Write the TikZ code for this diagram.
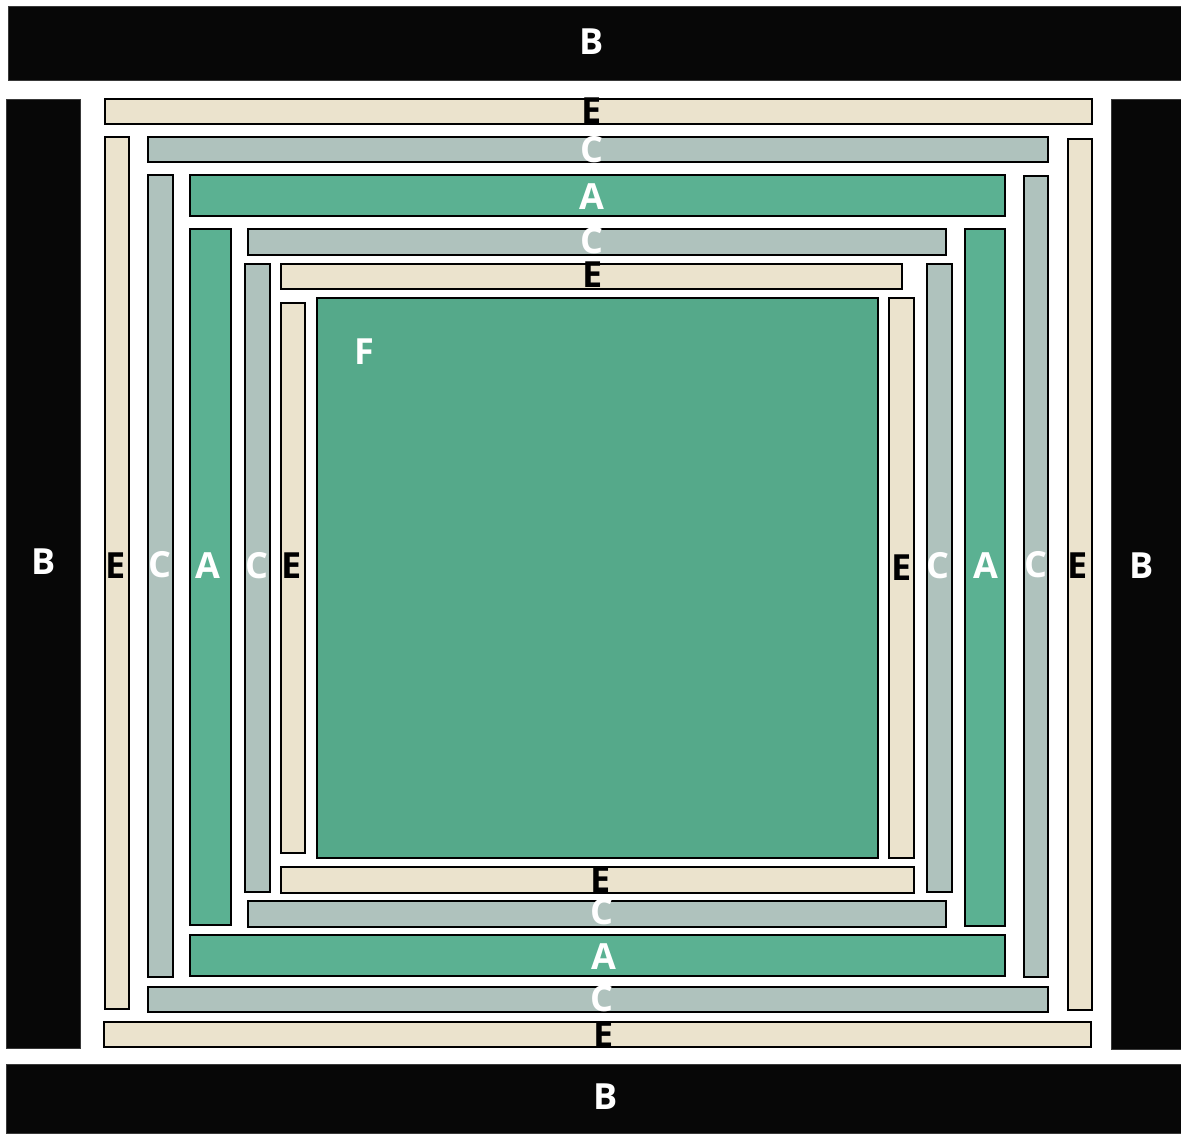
\documentclass[tikz,border=0pt]{standalone}
\usepackage{fontspec}
\setmainfont{Open Sans}
\usepackage{tikz}
\usepackage{xcolor}

\definecolor{barB}{HTML}{070707}
\definecolor{barA}{HTML}{5BB192}
\definecolor{barC}{HTML}{AFC2BD}
\definecolor{barE}{HTML}{EBE3CD}
\definecolor{fieldF}{HTML}{55A98A}

\tikzset{
  bandB/.style={fill=barB, draw=barB!80!white, line width=1pt},
  bandA/.style={fill=barA, draw=black, line width=2pt},
  bandC/.style={fill=barC, draw=black, line width=2pt},
  bandE/.style={fill=barE, draw=black, line width=2pt},
  bandF/.style={fill=fieldF, draw=black, line width=2pt},
  lbl/.style={font=\fontsize{36}{36}\selectfont\bfseries, inner sep=0pt, text=white},
  lbldark/.style={lbl, text=black}
}

\begin{document}
\begin{tikzpicture}[x=1pt,y=-1pt]
  \useasboundingbox (0,0) rectangle (1181,1133);
  \fill[white] (0,0) rectangle (1181,1133);
  % black frame
  \fill[bandB] (8,6) rectangle (1181,80);
  \fill[bandB] (6,1064) rectangle (1181,1133);
  \fill[bandB] (6,99) rectangle (80,1048);
  \fill[bandB] (1111,99) rectangle (1181,1049);
  % outer E ring
  \draw[bandE] (105,99) rectangle (1092,124);
  \draw[bandE] (105,137) rectangle (129,1009);
  \draw[bandE] (1068,139) rectangle (1092,1010);
  \draw[bandE] (104,1022) rectangle (1091,1047);
  % outer C ring
  \draw[bandC] (148,137) rectangle (1048,162);
  \draw[bandC] (148,175) rectangle (173,977);
  \draw[bandC] (1024,176) rectangle (1048,977);
  \draw[bandC] (148,987) rectangle (1048,1012);
  % A ring
  \draw[bandA] (190,175) rectangle (1005,216);
  \draw[bandA] (190,229) rectangle (231,925);
  \draw[bandA] (965,229) rectangle (1005,926);
  \draw[bandA] (190,935) rectangle (1005,976);
  % inner C ring
  \draw[bandC] (248,229) rectangle (946,255);
  \draw[bandC] (245,264) rectangle (270,892);
  \draw[bandC] (927,264) rectangle (952,892);
  \draw[bandC] (248,901) rectangle (946,927);
  % inner E ring
  \draw[bandE] (281,264) rectangle (902,289);
  \draw[bandE] (281,303) rectangle (305,853);
  \draw[bandE] (889,298) rectangle (914,858);
  \draw[bandE] (281,867) rectangle (914,893);
  % core
  \draw[bandF] (317,298) rectangle (878,858);

  % labels
  \node[lbl] (bTop) at (592,42) {B};
  \node[lbl] (bLeft) at (44,562) {B};
  \node[lbl] (bRight) at (1142,566) {B};
  \node[lbl] (bBottom) at (606,1097) {B};
  \node[lbldark] (eTopO) at (592,111) {E};
  \node[lbl] (cTopO) at (592,150) {C};
  \node[lbl] (aTop) at (592,197) {A};
  \node[lbl] (cTopI) at (592,241) {C};
  \node[lbldark] (eTopI) at (593,275) {E};
  \node[lbl] (fCore) at (364,352) {F};
  \node[lbldark] (eLeftO) at (116,566) {E};
  \node[lbl] (cLeftO) at (160,565) {C};
  \node[lbl] (aLeft) at (208,566) {A};
  \node[lbl] (cLeftI) at (257,566) {C};
  \node[lbldark] (eLeftI) at (292,566) {E};
  \node[lbldark] (eRightI) at (902,568) {E};
  \node[lbl] (cRightI) at (938,566) {C};
  \node[lbl] (aRight) at (986,566) {A};
  \node[lbl] (cRightO) at (1036,565) {C};
  \node[lbldark] (eRightO) at (1078,566) {E};
  \node[lbldark] (eBotI) at (601,880) {E};
  \node[lbl] (cBotI) at (602,912) {C};
  \node[lbl] (aBot) at (604,957) {A};
  \node[lbl] (cBotO) at (602,999) {C};
  \node[lbldark] (eBotO) at (604,1035) {E};
\end{tikzpicture}
\end{document}
